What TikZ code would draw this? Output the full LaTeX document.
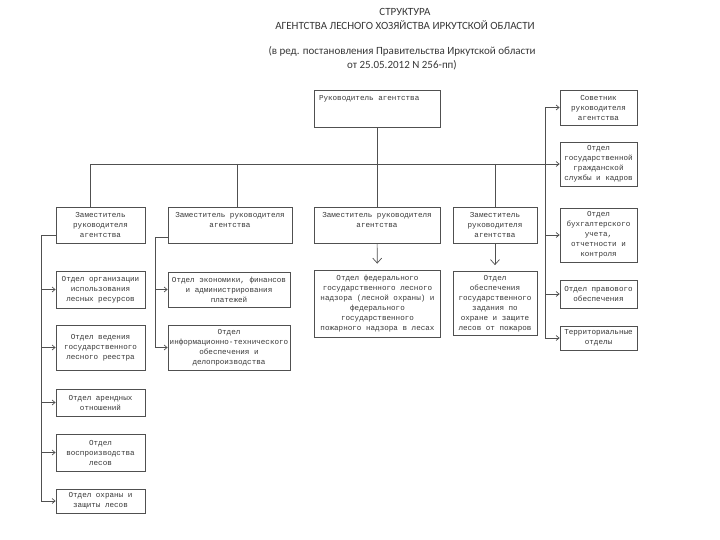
\documentclass[tikz,border=0pt]{standalone}
\usepackage{fontspec}
\setmainfont{Carlito}
\newfontfamily\boxfont{Liberation Mono}
\usetikzlibrary{arrows.meta, positioning, calc}

\begin{document}
\begin{tikzpicture}[x=1pt, y=-1pt,
    unit/.style={rectangle, draw=linecolor, line width=0.8pt, font=\fontsize{7.6}{10}\boxfont, text=textcolor, align=center, inner sep=1pt},
    link/.style={line width=0.8pt, linecolor},
    arrow/.style={-{Straight Barb[length=3pt, width=5pt]}, line width=0.7pt, linecolor},
    down/.style={-{Straight Barb[length=5pt, width=9pt]}, line width=0.7pt, linecolor, shorten >=6pt},
    title/.style={font=\fontsize{11}{14}\selectfont, text=textcolor, align=center}
]

% Colors of the scanned sheet
\definecolor{linecolor}{RGB}{80, 80, 80}
\definecolor{textcolor}{RGB}{55, 55, 55}

\useasboundingbox (0,0) rectangle (720,540);

% Title
\node[title] (title) at (405,19) {СТРУКТУРА\\АГЕНТСТВА ЛЕСНОГО ХОЗЯЙСТВА ИРКУТСКОЙ ОБЛАСТИ};
\node[title] (edition) at (402,58) {(в ред. постановления Правительства Иркутской области\\от 25.05.2012 N 256-пп)};

% Head of the agency
\node[unit, minimum width=126pt, minimum height=37pt,
      label={[unit, draw=none, inner sep=5pt, anchor=north west]north west:Руководитель агентства}] (head) at (377,108.5) {};

% Deputies
\node[unit, minimum width=89pt, minimum height=36pt] (dep1) at (100.5,225) {Заместитель\\руководителя\\агентства};
\node[unit, minimum width=124pt, minimum height=36pt] (dep2) at (230,225) {Заместитель руководителя\\агентства\\\mbox{}};
\node[unit, minimum width=126pt, minimum height=36pt] (dep3) at (377,225) {Заместитель руководителя\\агентства\\\mbox{}};
\node[unit, minimum width=84pt, minimum height=36pt] (dep4) at (495,225) {Заместитель\\руководителя\\агентства};

% Right column
\node[unit, minimum width=77pt, minimum height=35pt] (sovet) at (598.5,107.5) {Советник\\руководителя\\агентства};
\node[unit, minimum width=77pt, minimum height=44pt] (kadry) at (598.5,164) {Отдел\\государственной\\гражданской\\службы и кадров};
\node[unit, minimum width=77pt, minimum height=54pt] (buh) at (598.5,235) {Отдел\\бухгалтерского\\учета,\\отчетности и\\контроля};
\node[unit, minimum width=77pt, minimum height=28pt] (prav) at (598.5,294) {Отдел правового\\обеспечения};
\node[unit, minimum width=77pt, minimum height=24pt] (terr) at (598.5,338) {Территориальные\\отделы};

% Left column
\node[unit, minimum width=89pt, minimum height=37pt] (lesres) at (100.5,289.5) {Отдел организации\\использования\\лесных ресурсов};
\node[unit, minimum width=89pt, minimum height=45pt] (reestr) at (100.5,347.5) {Отдел ведения\\государственного\\лесного реестра};
\node[unit, minimum width=89pt, minimum height=27pt] (arenda) at (100.5,402.5) {Отдел арендных\\отношений};
\node[unit, minimum width=89pt, minimum height=37pt] (vospr) at (100.5,452.5) {Отдел\\воспроизводства\\лесов};
\node[unit, minimum width=89pt, minimum height=24pt] (ohrana) at (100.5,501) {Отдел охраны и\\защиты лесов};

% Middle column
\node[unit, minimum width=122pt, minimum height=35pt] (ekon) at (229,289.5) {Отдел экономики, финансов\\и администрирования\\платежей};
\node[unit, minimum width=122pt, minimum height=45pt] (delo) at (229,347.5) {Отдел\\информационно-технического\\обеспечения и\\делопроизводства};

% Under deputies 3 and 4
\node[unit, minimum width=126pt, minimum height=67pt] (nadzor) at (377.5,303.5) {Отдел федерального\\государственного лесного\\надзора (лесной охраны) и\\федерального\\государственного\\пожарного надзора в лесах};
\node[unit, minimum width=84pt, minimum height=64pt] (pozhar) at (495,303.5) {Отдел\\обеспечения\\государственного\\задания по\\охране и защите\\лесов от пожаров};

% Bus lines
\coordinate (lbus) at (41,0);
\coordinate (mbus) at (155,0);
\coordinate (rbus) at (545,0);
\coordinate (drop1) at (90,164);
\coordinate (drop2) at (237,164);
\coordinate (drop4) at (495,164);

\draw[link] (drop1 |- dep1.north) -- (drop1) -- (rbus |- kadry.west);
\draw[link] (drop2) -- (drop2 |- dep2.north);
\draw[link] (drop4) -- (drop4 |- dep4.north);
\draw[link] (head) -- (dep3);

% Right column arrows
\draw[link] (rbus |- sovet.west) -- (rbus |- terr.west);
\foreach \n in {sovet, kadry, buh, prav, terr}
    \draw[arrow] (rbus |- \n.west) -- (\n.west);

% Left column arrows
\draw[link] ($(dep1.west)+(0,10)$) -| (lbus |- ohrana.west);
\foreach \n in {lesres, reestr, arenda, vospr, ohrana}
    \draw[arrow] (lbus |- \n.west) -- (\n.west);

% Middle column arrows
\draw[link] ($(dep2.west)+(0,12)$) -| (mbus |- delo.west);
\foreach \n in {ekon, delo}
    \draw[arrow] (mbus |- \n.west) -- (\n.west);

\draw[down] (dep3) -- (nadzor);
\draw[down] (dep4) -- (pozhar);

\end{tikzpicture}
\end{document}
